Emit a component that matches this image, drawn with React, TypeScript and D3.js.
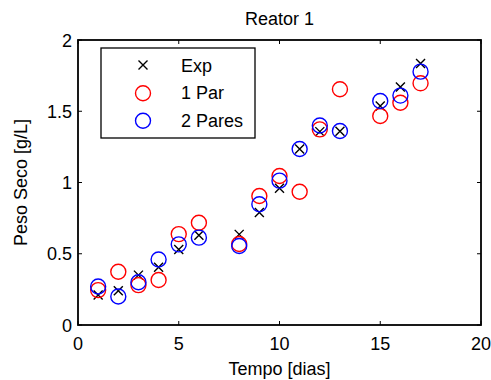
import React from "react";
import * as d3 from "d3";

const days = [1, 2, 3, 4, 5, 6, 8, 9, 10, 11, 12, 13, 15, 16, 17];
const expValues = [0.21, 0.24, 0.35, 0.405, 0.53, 0.63, 0.636, 0.79, 0.96, 1.235, 1.357, 1.36, 1.537, 1.67, 1.835];
const par1Values = [0.245, 0.374, 0.28, 0.316, 0.638, 0.718, 0.568, 0.905, 1.046, 0.935, 1.373, 1.654, 1.467, 1.56, 1.696];
const par2Values = [0.27, 0.2, 0.3, 0.46, 0.566, 0.613, 0.554, 0.847, 1.013, 1.235, 1.4, 1.361, 1.572, 1.61, 1.778];
const xTicks = [0, 5, 10, 15, 20];
const yTicks = [0, 0.5, 1, 1.5, 2];
const yTickLabels = ["0", "0.5", "1", "1.5", "2"];
const legendLabels = ["Exp", "1 Par", "2 Pares"];

const W = 491, H = 380;
const L = 78, R = 481, T = 40, B = 325;
const FONT = "'Liberation Sans', Arial, sans-serif";
const FS = 18;

export default function App() {
  const x = d3.scaleLinear().domain([0, 20]).range([L, R]);
  const y = d3.scaleLinear().domain([0, 2]).range([B, T]);
  const rC = 7.5;
  const xs = 4.5;
  const cross = (cx: number, cy: number, key: string) => (
    <path key={key} d={`M${cx - xs},${cy - xs}L${cx + xs},${cy + xs}M${cx - xs},${cy + xs}L${cx + xs},${cy - xs}`} stroke="#000" strokeWidth={1.4} fill="none" />
  );
  const tick = 4;
  return (
    <svg width={W} height={H} style={{ position: "absolute", left: 0, top: 0, background: "#fff" }} fontFamily={FONT}>
      <rect x={0} y={0} width={W} height={H} fill="#fff" />
      {xTicks.map((t) => (
        <g key={"xt" + t}>
          <line x1={x(t)} x2={x(t)} y1={B} y2={B - tick} stroke="#000" strokeWidth={1} />
          <line x1={x(t)} x2={x(t)} y1={T} y2={T + tick} stroke="#000" strokeWidth={1} />
          <text x={x(t)} y={350} textAnchor="middle" fontSize={FS} fill="#000">{t}</text>
        </g>
      ))}
      {yTicks.map((t, i) => (
        <g key={"yt" + t}>
          <line x1={L} x2={L + tick} y1={y(t)} y2={y(t)} stroke="#000" strokeWidth={1} />
          <line x1={R} x2={R - tick} y1={y(t)} y2={y(t)} stroke="#000" strokeWidth={1} />
          <text x={72} y={y(t) + 6.5} textAnchor="end" fontSize={FS} fill="#000">{yTickLabels[i]}</text>
        </g>
      ))}
      {days.map((d, i) => cross(x(d), y(expValues[i]), "e" + i))}
      {days.map((d, i) => (
        <circle key={"p1" + i} cx={x(d)} cy={y(par1Values[i])} r={rC} fill="none" stroke="#ff0000" strokeWidth={1.4} />
      ))}
      {days.map((d, i) => (
        <circle key={"p2" + i} cx={x(d)} cy={y(par2Values[i])} r={rC} fill="none" stroke="#0000ff" strokeWidth={1.4} />
      ))}
      <rect x={L} y={T} width={R - L} height={B - T} fill="none" stroke="#000" strokeWidth={1.8} />
      <rect x={101} y={48} width={154} height={90} fill="#fff" stroke="#000" strokeWidth={1.3} />
      {cross(143, 65, "le")}
      <circle cx={143} cy={93.3} r={rC} fill="none" stroke="#ff0000" strokeWidth={1.4} />
      <circle cx={143} cy={120.7} r={rC} fill="none" stroke="#0000ff" strokeWidth={1.4} />
      {legendLabels.map((lbl, i) => (
        <text key={lbl} x={181} y={71.5 + i * 27.6} fontSize={FS} fill="#000">{lbl}</text>
      ))}
      <text x={(L + R) / 2} y={25} textAnchor="middle" fontSize={FS} fill="#000">Reator 1</text>
      <text x={(L + R) / 2} y={375} textAnchor="middle" fontSize={FS} fill="#000">Tempo [dias]</text>
      <text transform={`translate(27,${(T + B) / 2}) rotate(-90)`} textAnchor="middle" fontSize={FS} fill="#000">Peso Seco [g/L]</text>
    </svg>
  );
}
